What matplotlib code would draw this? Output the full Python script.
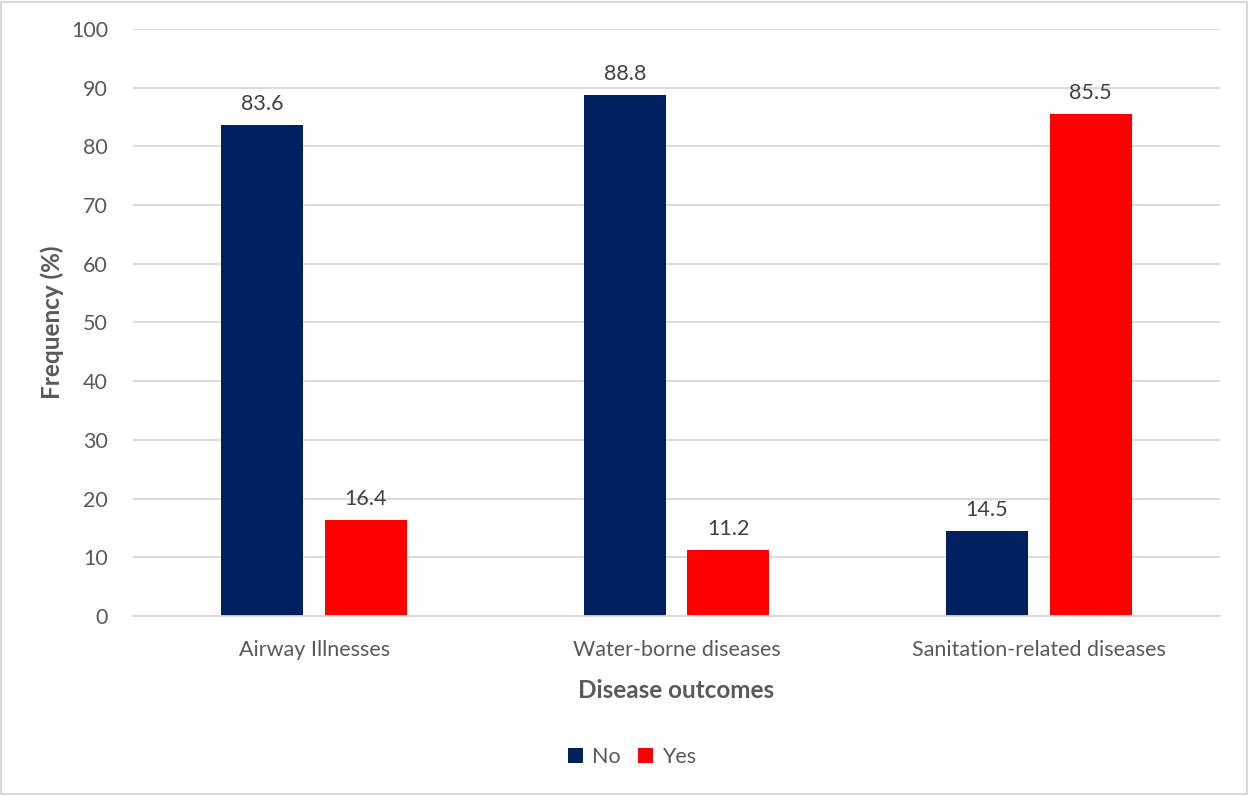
import numpy as np
import matplotlib
matplotlib.use("Agg")
import matplotlib.pyplot as plt
from matplotlib.patches import Rectangle

plt.rcParams["font.family"] = ["Lato", "DejaVu Sans"]

categories = ["Airway Illnesses", "Water-borne diseases", "Sanitation-related diseases"]
no_vals = [83.6, 88.8, 14.5]
yes_vals = [16.4, 11.2, 85.5]
series_names = ["No", "Yes"]

NAVY = "#002060"
RED = "#FF0000"
TXT = "#595959"
GRID = "#D9D9D9"

fig = plt.figure(figsize=(12.49, 7.96), dpi=100)
ax = fig.add_axes([0.1065, 0.2261, 0.8703, 0.7375])

x = np.arange(len(categories))
w = 0.226
off = 0.143
b1 = ax.bar(x - off, no_vals, w, color=NAVY, label=series_names[0], zorder=2)
b2 = ax.bar(x + off, yes_vals, w, color=RED, label=series_names[1], zorder=2)

for bars in (b1, b2):
    for r in bars:
        ax.annotate(f"{r.get_height():.1f}", (r.get_x() + r.get_width() / 2, r.get_height()),
                    xytext=(0, 8), textcoords="offset points", ha="center", va="bottom",
                    fontsize=15.5, color="#404040")

ax.set_xlim(-0.5, 2.5)
ax.set_ylim(0, 100)
ax.set_yticks(range(0, 101, 10))
ax.set_xticks(x)
ax.set_xticklabels(categories)
ax.yaxis.grid(True, color=GRID, lw=1.3, zorder=0)
ax.set_axisbelow(True)
for s in ("top", "right", "left"):
    ax.spines[s].set_visible(False)
ax.spines["bottom"].set_color(GRID)
ax.spines["bottom"].set_linewidth(1.3)
ax.tick_params(axis="both", length=0, labelsize=15.5, colors=TXT)
ax.tick_params(axis="y", pad=18)
ax.tick_params(axis="x", pad=17)
ax.set_xlabel("Disease outcomes", fontsize=17.5, fontweight="bold", color=TXT, labelpad=14)
ax.set_ylabel("Frequency (%)", fontsize=17.5, fontweight="bold", color=TXT, labelpad=5)

fig.legend(handles=[b1, b2], labels=series_names, loc="center", bbox_to_anchor=(0.506, 0.049),
           ncol=2, frameon=False, fontsize=15.5, labelcolor=TXT, handlelength=0.7,
           handleheight=0.7, handletextpad=0.4, columnspacing=0.8)

fig.patches.append(Rectangle((0.001, 0.002), 0.997, 0.996, transform=fig.transFigure,
                             fill=False, ec=GRID, lw=1.5))

fig.savefig("out.png", dpi=100, facecolor="white")
